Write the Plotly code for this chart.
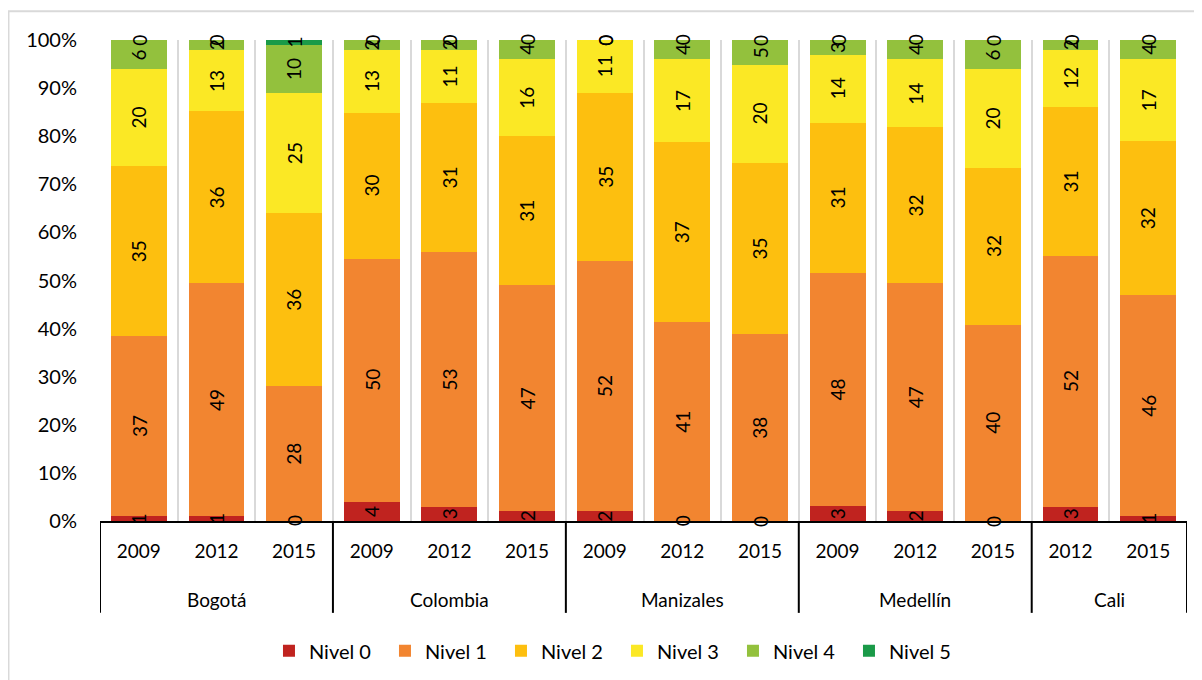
# Stacked 100% bar chart: proficiency levels (Nivel 0-5) by city and year.
# Recreates an Excel-style chart with rotated in-bar value labels
# and a two-row (year / city) category axis.

import plotly.graph_objects as go

# ---- Data ----
groups = ["Bogotá", "Bogotá", "Bogotá",
          "Colombia", "Colombia", "Colombia",
          "Manizales", "Manizales", "Manizales",
          "Medellín", "Medellín", "Medellín",
          "Cali", "Cali"]
years = ["2009", "2012", "2015",
         "2009", "2012", "2015",
         "2009", "2012", "2015",
         "2009", "2012", "2015",
         "2012", "2015"]

levels = ["Nivel 0", "Nivel 1", "Nivel 2", "Nivel 3", "Nivel 4", "Nivel 5"]
nivel_0 = [1, 1, 0, 4, 3, 2, 2, 0, 0, 3, 2, 0, 3, 1]
nivel_1 = [37, 49, 28, 50, 53, 47, 52, 41, 38, 48, 47, 40, 52, 46]
nivel_2 = [35, 36, 36, 30, 31, 31, 35, 37, 35, 31, 32, 32, 31, 32]
nivel_3 = [20, 13, 25, 13, 11, 16, 11, 17, 20, 14, 14, 20, 12, 17]
nivel_4 = [6, 2, 10, 2, 2, 4, 0, 4, 5, 3, 4, 6, 2, 4]
nivel_5 = [0, 0, 1, 0, 0, 0, 0, 0, 0, 0, 0, 0, 0, 0]
series = [nivel_0, nivel_1, nivel_2, nivel_3, nivel_4, nivel_5]

y_ticks = [0, 10, 20, 30, 40, 50, 60, 70, 80, 90, 100]

# ---- Style ----
COLORS = ["#C0231F", "#F28530", "#FDBF0F", "#FBE825", "#93C13D", "#1A9A48"]
FONT = "Lato, Carlito, Calibri, sans-serif"
GRID = "#D9D9D9"
BLACK = "#000000"

positions = list(range(len(years)))
totals = [sum(col) for col in zip(*series)]

fig = go.Figure()

for name, vals, color in zip(levels, series, COLORS):
    fig.add_trace(go.Bar(
        name=name,
        x=positions,
        y=vals,
        marker=dict(color=color, line=dict(width=0)),
        hoverinfo="skip",
    ))

annotations = []

# Rotated value labels at the middle of each (normalized) segment
base = [0.0] * len(years)
for vals in series:
    for i, v in enumerate(vals):
        pct = v / totals[i] * 100
        annotations.append(dict(
            x=i, y=base[i] + pct / 2, xref="x", yref="y",
            text=str(v), showarrow=False, textangle=-90,
            font=dict(family=FONT, size=19, color=BLACK),
        ))
        base[i] += pct

# Group (city) labels and divider lines under the axis
bounds = [-0.5] + [i - 0.5 for i in range(1, len(groups)) if groups[i] != groups[i - 1]] + [len(groups) - 0.5]
shapes = []
for left, right in zip(bounds[:-1], bounds[1:]):
    annotations.append(dict(
        x=(left + right) / 2, y=-0.164, xref="x", yref="paper",
        text=groups[int(left + 0.5)], showarrow=False, yanchor="middle",
        font=dict(family=FONT, size=19, color=BLACK),
    ))
for b in bounds:
    shapes.append(dict(
        type="line", xref="x", yref="paper",
        x0=b, x1=b, y0=0, y1=-0.191,
        line=dict(color=BLACK, width=2),
    ))

# Light chart-area border (Excel style)
shapes.append(dict(
    type="rect", xref="paper", yref="paper",
    x0=-0.0842, x1=1.02, y0=-0.36, y1=1.06,
    line=dict(color=GRID, width=2), layer="below",
))

fig.update_layout(
    barmode="stack",
    barnorm="percent",
    bargap=0.28,
    annotations=annotations,
    shapes=shapes,
    paper_bgcolor="white",
    plot_bgcolor="white",
    font=dict(family=FONT, size=19, color=BLACK),
    width=1202,
    height=680,
    margin=dict(l=92, r=23, t=32, b=167),
    xaxis=dict(
        range=[-0.5, len(years) - 0.5],
        tickvals=positions,
        ticktext=years,
        showgrid=False, zeroline=False,
        showline=True, linecolor=BLACK, linewidth=2,
        ticks="", ticklabelstandoff=12,
        minor=dict(tick0=-0.5, dtick=1, showgrid=True,
                   gridcolor=GRID, gridwidth=2, ticks=""),
        tickfont=dict(family=FONT, size=19, color=BLACK),
    ),
    yaxis=dict(
        range=[0, 100],
        tickvals=y_ticks,
        ticktext=[f"{t}%" for t in y_ticks],
        showgrid=False, zeroline=False, showline=False,
        ticks="", ticklabelstandoff=22,
        tickfont=dict(family=FONT, size=20, color=BLACK),
    ),
    legend=dict(
        orientation="h",
        x=0.4756, xanchor="center",
        y=-0.27, yanchor="middle",
        font=dict(family=FONT, size=20, color=BLACK),
        traceorder="normal",
        entrywidth=71,
    ),
)

fig.write_html("out.html")
